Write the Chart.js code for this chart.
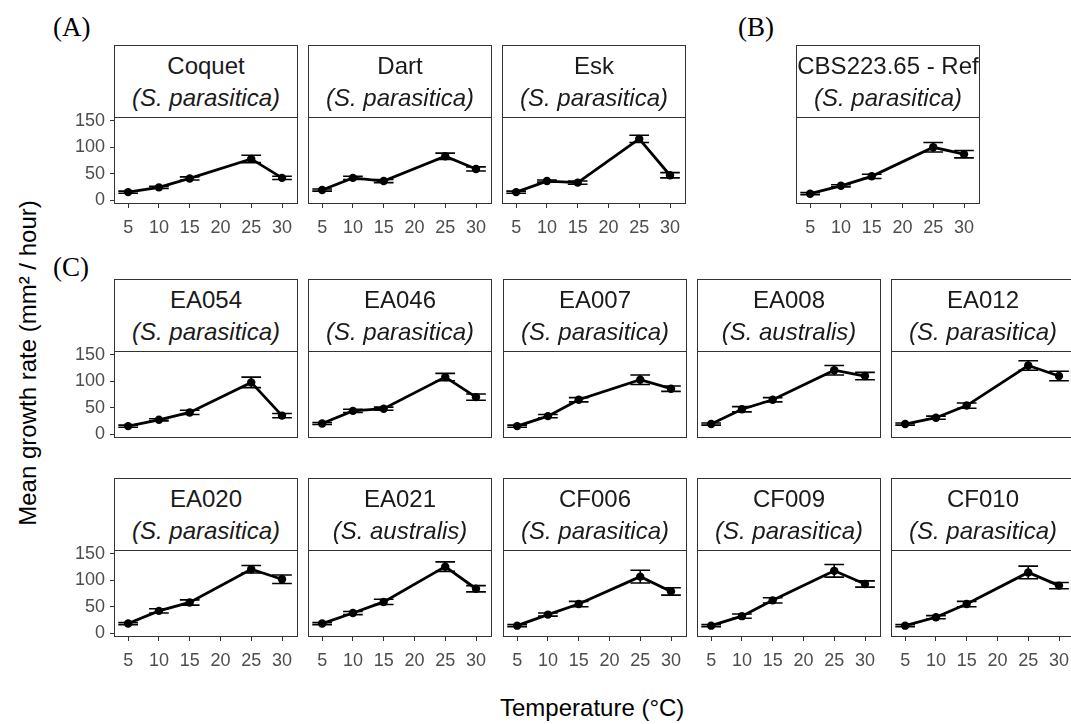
<!DOCTYPE html>
<html>
<head>
<meta charset="utf-8">
<script src="https://cdn.jsdelivr.net/npm/chart.js@4.4.1/dist/chart.umd.min.js"></script>
<style>
  body { margin: 0; background: #fff; }
  #fig { position: relative; width: 1071px; height: 724px; overflow: hidden;
         font-family: "Liberation Sans", Arial, sans-serif; }
  .strip { position: absolute; box-sizing: border-box; border: 1px solid #333; height: 73px;
           background: #fff; text-align: center; color: #1a1a1a; font-size: 24px; }
  .strip .l1, .strip .l2 { position: absolute; left: 0; right: 0; line-height: 26px; white-space: nowrap; }
  .strip .l1 { top: 7px; }
  .strip .l2 { top: 39px; font-style: italic; }
  .box { position: absolute; box-sizing: border-box; border: 1px solid #333; pointer-events: none; }
  canvas { position: absolute; }
  .tag { position: absolute; font-family: "Liberation Serif", "Times New Roman", serif; font-size: 27px; color: #000; }
  .title { position: absolute; font-size: 24px; color: #000; white-space: nowrap; }
</style>
</head>
<body>
<div id="fig">
  <div class="tag" style="left:53px;top:12px">(A)</div>
  <div class="tag" style="left:738px;top:12px">(B)</div>
  <div class="tag" style="left:53px;top:252px">(C)</div>
  <div class="title" id="ytitle">Mean growth rate (mm² / hour)</div>
  <div class="title" id="xtitle">Temperature (°C)</div>
</div>
<script>
// temperatures tested and axis breaks
const temps = [5, 10, 15, 25, 30];
const xTicks = [5, 10, 15, 20, 25, 30];
const yTicks = [0, 50, 100, 150];

// mean growth rate (mm2/hour) and standard error per isolate
const coquetMean = [15, 24, 41, 78, 42];
const coquetSe   = [2, 2, 3, 7, 3];
const dartMean   = [19, 42, 36, 83, 59];
const dartSe     = [2, 3, 3, 6, 4];
const eskMean    = [15, 36, 33, 116, 47];
const eskSe      = [2, 2, 3, 7, 5];
const cbsMean    = [12, 27, 45, 100, 87];
const cbsSe      = [2, 2, 4, 9, 7];
const ea054Mean  = [15, 27, 41, 98, 35];
const ea054Se    = [2, 2, 4, 10, 4];
const ea046Mean  = [20, 44, 48, 108, 70];
const ea046Se    = [2, 3, 3, 7, 6];
const ea007Mean  = [15, 34, 65, 103, 86];
const ea007Se    = [2, 3, 4, 9, 5];
const ea008Mean  = [19, 47, 65, 121, 110];
const ea008Se    = [2, 5, 4, 9, 7];
const ea012Mean  = [19, 31, 54, 130, 110];
const ea012Se    = [2, 3, 5, 9, 9];
const ea020Mean  = [18, 42, 58, 121, 102];
const ea020Se    = [2, 4, 5, 7, 8];
const ea021Mean  = [18, 38, 59, 126, 84];
const ea021Se    = [2, 3, 5, 9, 6];
const cf006Mean  = [14, 35, 55, 107, 79];
const cf006Se    = [2, 3, 5, 12, 7];
const cf009Mean  = [14, 32, 62, 118, 93];
const cf009Se    = [2, 4, 5, 12, 6];
const cf010Mean  = [14, 30, 55, 115, 90];
const cf010Se    = [2, 3, 5, 12, 6];

const isolates = ['Coquet', 'Dart', 'Esk', 'CBS223.65 - Ref', 'EA054', 'EA046', 'EA007', 'EA008', 'EA012',
                  'EA020', 'EA021', 'CF006', 'CF009', 'CF010'];
const species = ['S. parasitica', 'S. parasitica', 'S. parasitica', 'S. parasitica', 'S. parasitica',
                 'S. parasitica', 'S. parasitica', 'S. australis', 'S. parasitica',
                 'S. parasitica', 'S. australis', 'S. parasitica', 'S. parasitica', 'S. parasitica'];
const means = [coquetMean, dartMean, eskMean, cbsMean, ea054Mean, ea046Mean, ea007Mean, ea008Mean, ea012Mean,
               ea020Mean, ea021Mean, cf006Mean, cf009Mean, cf010Mean];
const errors = [coquetSe, dartSe, eskSe, cbsSe, ea054Se, ea046Se, ea007Se, ea008Se, ea012Se,
                ea020Se, ea021Se, cf006Se, cf009Se, cf010Se];

// facet placement: [left, strip top, show y axis, show x axis]
const layout = [
  [114, 45, true, true], [308, 45, false, true], [502, 45, false, true], [796, 45, false, true],
  [114, 279, true, false], [308, 279, false, false], [503, 279, false, false], [697, 279, false, false], [891, 279, false, false],
  [114, 478, true, true], [308, 478, false, true], [503, 478, false, true], [697, 478, false, true], [891, 478, false, true]
];

const PW = 184, SH = 73, PH = 87, AXW = 60, AXH = 40, TOP = 12;
const FONT = '"Liberation Sans", Arial, sans-serif';

// fixed axis bands, no extra padding for overhanging labels
function fixBand(s, size) {
  if (s.isHorizontal()) s.height = size; else s.width = size;
  s.paddingTop = s.paddingBottom = s.paddingLeft = s.paddingRight = 0;
}

// whiskers with caps, drawn from the dataset's errors through the scales
const errorBars = {
  id: 'errorBars',
  afterDatasetsDraw(chart) {
    const { ctx, scales: { x, y } } = chart;
    const ds = chart.data.datasets[0];
    ctx.save();
    ctx.strokeStyle = '#000';
    ctx.lineWidth = 1.6;
    ds.data.forEach((p, i) => {
      const e = ds.errors[i];
      const px = x.getPixelForValue(p.x);
      const hw = x.getPixelForValue(p.x + 1.6) - px;
      const top = y.getPixelForValue(p.y + e);
      const bot = y.getPixelForValue(p.y - e);
      ctx.beginPath();
      ctx.moveTo(px, top); ctx.lineTo(px, bot);
      ctx.moveTo(px - hw, top); ctx.lineTo(px + hw, top);
      ctx.moveTo(px - hw, bot); ctx.lineTo(px + hw, bot);
      ctx.stroke();
    });
    ctx.restore();
  }
};

const fig = document.getElementById('fig');

isolates.forEach((name, k) => {
  const [left, stripTop, showY, showX] = layout[k];
  const plotTop = stripTop + SH - 1;

  const strip = document.createElement('div');
  strip.className = 'strip';
  strip.style.cssText = `left:${left}px;top:${stripTop}px;width:${PW}px`;
  strip.innerHTML = `<div class="l1">${name}</div><div class="l2">(${species[k]})</div>`;
  fig.appendChild(strip);

  const canvas = document.createElement('canvas');
  canvas.width = AXW + PW;
  canvas.height = TOP + PH + AXH;
  canvas.style.cssText = `left:${left - AXW}px;top:${plotTop - TOP}px;width:${AXW + PW}px;height:${TOP + PH + AXH}px`;
  fig.appendChild(canvas);

  const box = document.createElement('div');
  box.className = 'box';
  box.style.cssText = `left:${left}px;top:${plotTop}px;width:${PW}px;height:${PH}px`;
  fig.appendChild(box);

  new Chart(canvas, {
    type: 'line',
    data: {
      datasets: [{
        data: temps.map((t, i) => ({ x: t, y: means[k][i] })),
        errors: errors[k],
        borderColor: '#000',
        backgroundColor: '#000',
        borderWidth: 2.8,
        pointRadius: 4.2,
        pointBorderWidth: 0,
        tension: 0,
        clip: false
      }]
    },
    options: {
      responsive: false,
      animation: false,
      devicePixelRatio: 1,
      layout: { padding: { top: TOP, left: 0, right: 0, bottom: 0 }, autoPadding: false },
      plugins: { legend: { display: false }, tooltip: { enabled: false } },
      scales: {
        x: {
          type: 'linear', min: 2.7, max: 32.6,
          afterBuildTicks: s => { s.ticks = xTicks.map(v => ({ value: v })); },
          afterFit: s => fixBand(s, AXH),
          border: { display: false },
          grid: { display: showX, drawOnChartArea: false, tickLength: 4, color: '#333', tickWidth: 1 },
          ticks: { display: showX, color: '#4d4d4d', font: { size: 18, family: FONT }, padding: 9,
                   maxRotation: 0, autoSkip: false }
        },
        y: {
          type: 'linear', min: -7.5, max: 157.5,
          afterBuildTicks: s => { s.ticks = yTicks.map(v => ({ value: v })); },
          afterFit: s => fixBand(s, AXW),
          border: { display: false },
          grid: { display: showY, drawOnChartArea: false, tickLength: 4, color: '#333', tickWidth: 1 },
          ticks: { display: showY, color: '#4d4d4d', font: { size: 18, family: FONT }, padding: 5,
                   autoSkip: false }
        }
      }
    },
    plugins: [errorBars]
  });
});

// shared axis titles
const yt = document.getElementById('ytitle');
yt.style.left = (27 - yt.offsetWidth / 2) + 'px';
yt.style.top = (363 - yt.offsetHeight / 2) + 'px';
yt.style.transform = 'rotate(-90deg)';
const xt = document.getElementById('xtitle');
xt.style.left = (592 - xt.offsetWidth / 2) + 'px';
xt.style.top = (708 - xt.offsetHeight / 2) + 'px';
</script>
</body>
</html>
